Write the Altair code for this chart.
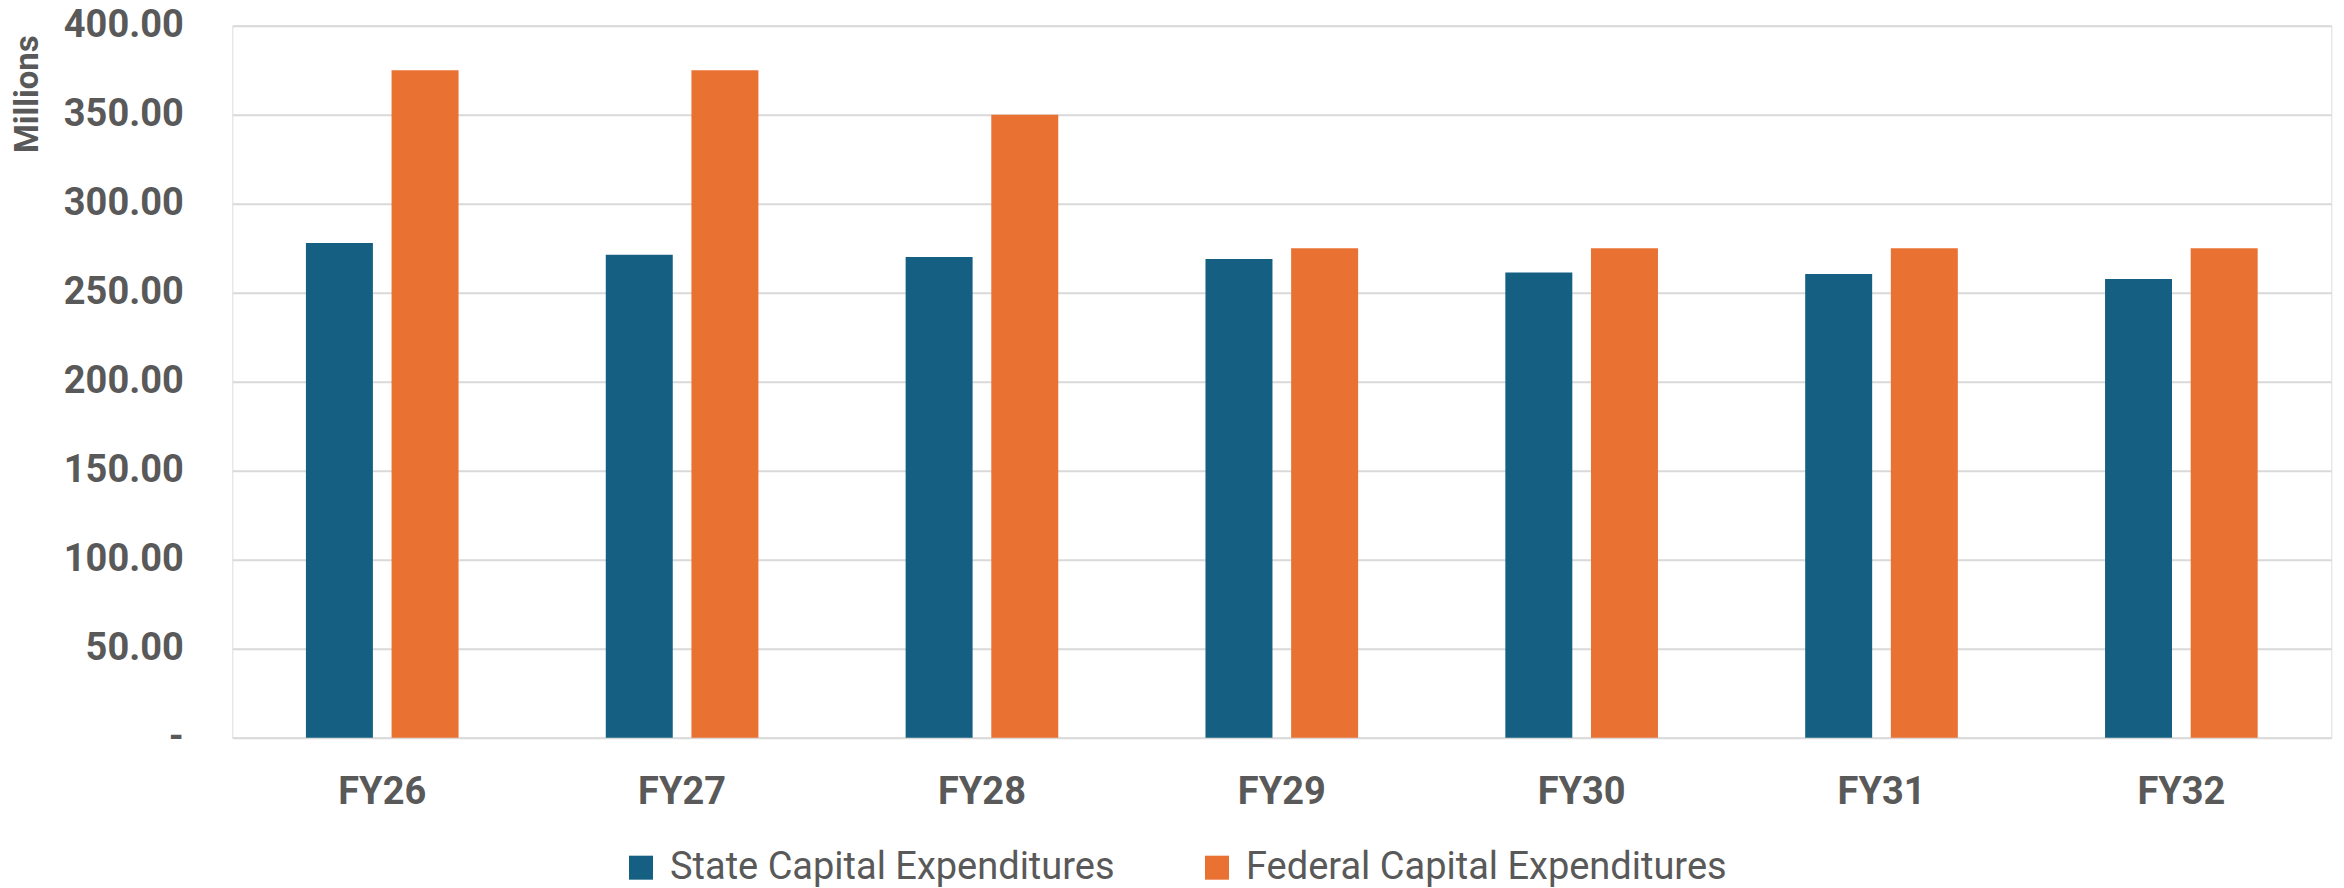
import altair as alt
import pandas as pd

years = ["FY26", "FY27", "FY28", "FY29", "FY30", "FY31", "FY32"]
state_capex = [277.9, 271.3, 270.0, 268.9, 261.4, 260.5, 257.7]
federal_capex = [375.0, 375.0, 350.0, 275.0, 275.0, 275.0, 275.0]
series_names = ["State Capital Expenditures", "Federal Capital Expenditures"]
series_colors = ["#156082", "#E97132"]
y_ticks = [0, 50, 100, 150, 200, 250, 300, 350, 400]

rows = []
for i, y in enumerate(years):
    rows.append({"year": y, "series": series_names[0], "value": state_capex[i]})
    rows.append({"year": y, "series": series_names[1], "value": federal_capex[i]})
df = pd.DataFrame(rows)

FONT = "Roboto"
TXT = "#595959"

chart = (
    alt.Chart(df)
    .mark_bar()
    .encode(
        x=alt.X(
            "year:N",
            sort=years,
            scale=alt.Scale(paddingInner=0.491, paddingOuter=0.2455),
            axis=alt.Axis(
                title=None,
                labelAngle=0,
                labelFont=FONT,
                labelFontSize=38,
                labelFontWeight="bold",
                labelColor=TXT,
                labelBaseline="top",
                labelPadding=36,
                ticks=False,
                domain=False,
                grid=False,
            ),
        ),
        xOffset=alt.XOffset(
            "series:N",
            sort=series_names,
            scale=alt.Scale(paddingInner=0.218, paddingOuter=0),
        ),
        y=alt.Y(
            "value:Q",
            scale=alt.Scale(domain=[0, 400], nice=False),
            axis=alt.Axis(
                title="Millions",
                titleFont=FONT,
                titleFontSize=33,
                titleFontWeight="bold",
                titleColor=TXT,
                titleAngle=270,
                titleAlign="center",
                titleBaseline="middle",
                titleX=-205,
                titleY=68,
                values=y_ticks,
                labelExpr="datum.value == 0 ? '-\u00a0\u00a0' : format(datum.value, ',.2f')",
                labelFont=FONT,
                labelFontSize=38,
                labelFontWeight="bold",
                labelColor=TXT,
                labelPadding=49,
                ticks=False,
                domain=False,
                gridColor="#D9D9D9",
                gridWidth=2,
            ),
        ),
        color=alt.Color(
            "series:N",
            sort=series_names,
            scale=alt.Scale(domain=series_names, range=series_colors),
            legend=alt.Legend(
                title=None,
                orient="none",
                direction="horizontal",
                legendX=389.7,
                legendY=823,
                symbolType="square",
                symbolSize=576,
                symbolStrokeWidth=0,
                labelFont=FONT,
                labelFontSize=38,
                labelColor=TXT,
                labelOffset=10,
                labelLimit=0,
                columnPadding=83,
            ),
        ),
    )
    .properties(
        width=2099,
        height=712,
        autosize=alt.AutoSizeParams(type="none"),
        padding={"left": 224.3, "top": 17.7, "right": 4.5, "bottom": 150},
    )
    .configure_view(stroke=None)
    .configure(background="white")
)

chart.save("out.html", embed_options={"renderer": "svg", "actions": False})
